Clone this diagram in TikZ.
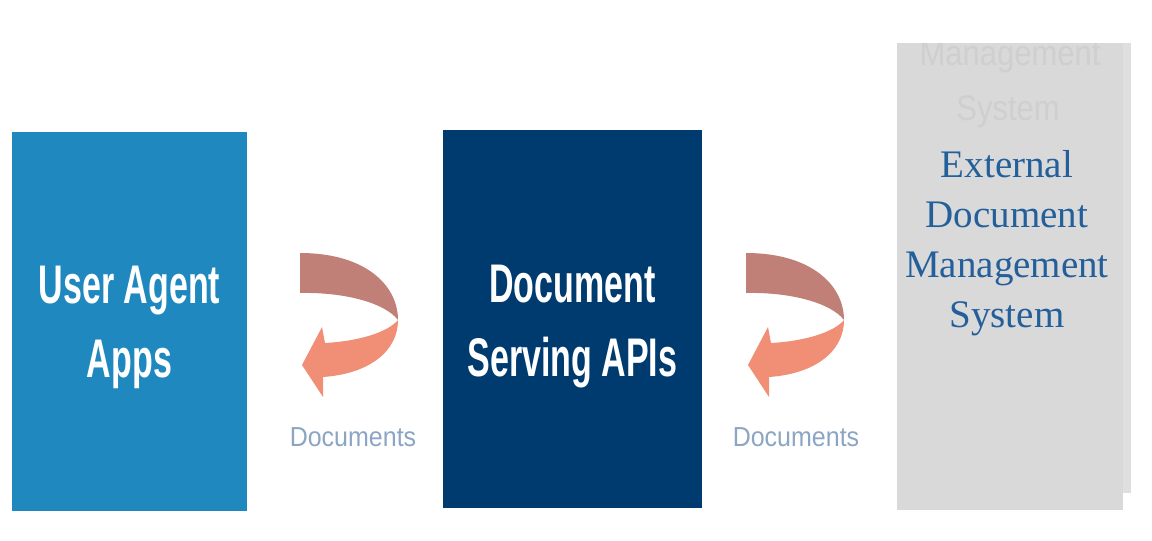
\documentclass[tikz,border=0pt]{standalone}
\usepackage{fontspec}
\setmainfont{Liberation Serif}
\setsansfont{Liberation Sans}
\usetikzlibrary{positioning}

\definecolor{agentblue}{RGB}{30,136,191}
\definecolor{apinavy}{RGB}{0,59,111}
\definecolor{dmsgray}{RGB}{217,217,217}
\definecolor{dmsshade}{RGB}{223,223,223}
\definecolor{dmsghost}{RGB}{207,207,207}
\definecolor{dmstext}{RGB}{35,95,155}
\definecolor{doclabel}{RGB}{140,165,195}
\definecolor{ribbontop}{RGB}{192,128,120}
\definecolor{ribbonlow}{RGB}{240,142,118}

\tikzset{
  block/.style={anchor=north west, inner sep=0pt, outer sep=0pt},
  boxtext/.style={text=white, inner sep=0pt, font=\sffamily\bfseries\fontsize{34}{46}\selectfont},
  dmslabel/.style={text=dmstext, inner sep=0pt, align=center, font=\rmfamily\fontsize{39}{50}\selectfont},
  ghostlabel/.style={text=dmsghost, inner sep=0pt, font=\sffamily\fontsize{31}{36}\selectfont},
  doclabelnode/.style={text=doclabel, inner sep=0pt, font=\sffamily\fontsize{25}{30}\selectfont},
}

\begin{document}
\begin{tikzpicture}[x=1pt,y=-1pt]
\useasboundingbox (0,0) rectangle (1152,541);

% Boxes
\node[block, fill=agentblue, minimum width=235pt, minimum height=379pt] (agent) at (12,132) {};
\node[block, fill=apinavy, minimum width=259pt, minimum height=378pt] (api) at (443,130) {};
\node[block, fill=dmsshade, minimum width=226pt, minimum height=450pt] (dmsback) at (905,43) {};
\node[block, fill=dmsgray, minimum width=226pt, minimum height=467pt] (dms) at (897,43) {};

% Text Node
\node[boxtext] (agenttext) at ([yshift=-4pt]agent.center) {\scalebox{1}[1.6]{\begin{tabular}{@{}c@{}}User Agent\\Apps\end{tabular}}};
% Text Node
\node[boxtext] (apitext) at ([yshift=-6pt]api.center) {\scalebox{1}[1.6]{\begin{tabular}{@{}c@{}}Document\\Serving APIs\end{tabular}}};

% faint text at the top of the grey box
\begin{scope}
\clip (dms.north west) rectangle (dmsback.north east |- dms.south);
\node[ghostlabel] (ghostmgmt) at (1010,57) {\scalebox{1}[1.15]{Management}};
\node[ghostlabel] (ghostsys) at (1008,112) {\scalebox{1}[1.15]{System}};
\end{scope}

% Text Node
\node[dmslabel] (dmstitle) at (1007,243) {External\\Document\\Management\\System};

% Ribbon arrows
\foreach \dx/\name in {0/left,446/right}{
\begin{scope}[shift={(\dx,0)}]
\fill[ribbontop] (300,253) .. controls (365,253) and (398,285) .. (398,320) .. controls (385,303) and (345,292) .. (300,293) -- cycle;
\fill[ribbonlow] (398,320) .. controls (398,352) and (368,374) .. (323,377) -- (323,397) -- (302,365) -- (322,327) -- (325,343) .. controls (360,341) and (388,332) .. (398,320) -- cycle;
\end{scope}
}

% Text Node
\node[doclabelnode] (docsleft) at (353,437) {\scalebox{1}[1.1]{Documents}};
% Text Node
\node[doclabelnode] (docsright) at (796,437) {\scalebox{1}[1.1]{Documents}};

\end{tikzpicture}
\end{document}
